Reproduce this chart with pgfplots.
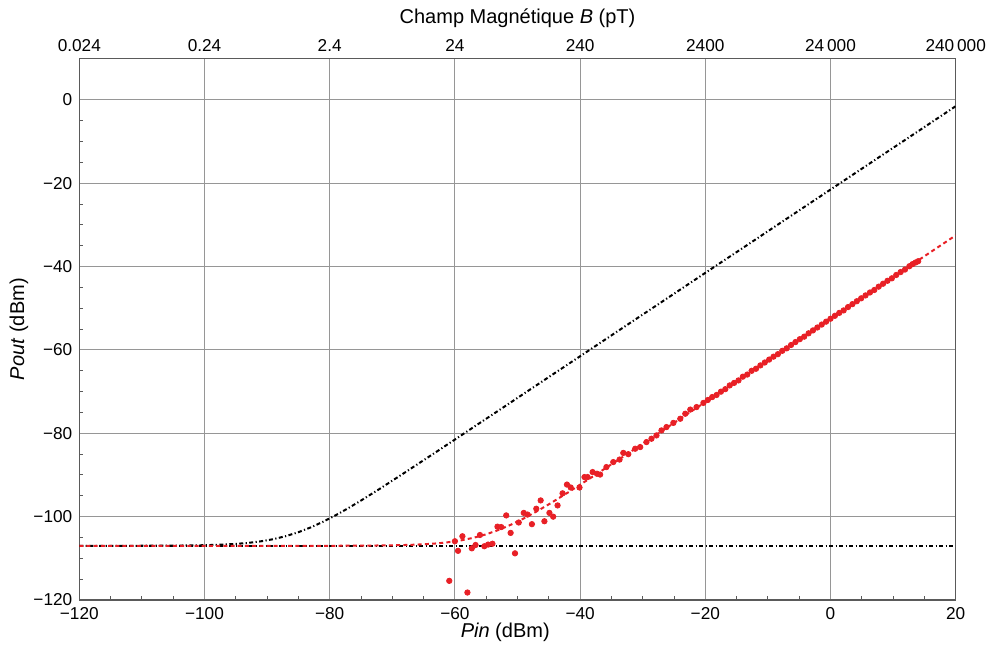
\documentclass[border=0pt]{standalone}
\usepackage{fontspec}
\setmainfont{Liberation Sans}
\usepackage{pgfplots}
\pgfplotsset{compat=1.18}
\definecolor{ptred}{RGB}{232,32,38}
\definecolor{gridgray}{RGB}{150,150,150}
\definecolor{framegray}{RGB}{90,90,90}
\begin{document}
\begin{tikzpicture}
\useasboundingbox (-39.65pt,-23.5pt) rectangle (454.85pt,300pt);
\begin{axis}[
  at={(0,0)}, anchor=south west,
  width=438.2pt, height=270.85pt, scale only axis,
  xmin=-120, xmax=20, ymin=-120, ymax=10,
  xtick={-120,-100,-80,-60,-40,-20,0,20},
  ytick={-120,-100,-80,-60,-40,-20,0},
  xticklabels={−120,−100,−80,−60,−40,−20,0,20},
  yticklabels={−120,−100,−80,−60,−40,−20,0},
  minor x tick num=3, minor y tick num=3,
  tick align=inside, major tick length=0pt, minor tick length=2pt,
  tick pos=left,
  xmajorgrids, ymajorgrids,
  grid style={gridgray, line width=0.5pt},
  axis line style={framegray, line width=0.65pt},
  every tick/.style={framegray, line width=0.5pt},
  tick label style={font=\fontsize{8.6}{10}\selectfont},
  label style={font=\fontsize{8.6}{10}\selectfont},
  xlabel={\textit{Pin} (dBm)},
  ylabel={\textit{Pout} (dBm)},
  every axis x label/.style={at={(axis description cs:0.486,-0.059)}, anchor=center},
  every axis y label/.style={at={(axis description cs:-0.069,0.5)}, anchor=center, rotate=90},
]
% noise floor
\addplot[black, line width=1pt, dash pattern=on 2pt off 1.2pt on 0.6pt off 1.2pt] coordinates {(-120,-107) (20,-107)};
% black theoretical curve
\addplot[black, line width=1pt, dash pattern=on 2pt off 1.2pt on 0.6pt off 1.2pt] coordinates {
(-120,-107.0) (-110,-106.98) (-105,-106.95) (-100,-106.85) (-97,-106.70) (-95,-106.54)
(-93,-106.29) (-91,-105.92) (-89,-105.40) (-87,-104.67) (-85,-103.73) (-83,-102.56)
(-81,-101.18) (-79,-99.62) (-77,-97.93) (-75,-96.13) (-72,-93.31) (-68,-89.42)
(-64,-85.47) (-60,-81.49) (-55,-76.50) (-40,-61.5) (0,-21.5) (20,-1.5)};
% red fit
\addplot[ptred, line width=1pt, dash pattern=on 2pt off 1.6pt] coordinates {
(-120,-107.0) (-80,-106.99) (-75,-106.96) (-70,-106.88) (-67,-106.76) (-65,-106.63)
(-63,-106.43) (-61,-106.12) (-59,-105.68) (-57,-105.06) (-55,-104.23) (-53,-103.18)
(-51,-101.90) (-49,-100.42) (-47,-98.79) (-45,-97.04) (-42,-94.26) (-38,-90.40)
(-34,-86.46) (-30,-82.49) (-25,-77.5) (20,-32.5)};
% measurements
\addplot[only marks, mark=*, mark size=1.35pt, mark options={draw=ptred, fill=ptred}] coordinates {
(-60.9,-115.4) (-58.0,-118.2) (-60.0,-105.9) (-59.5,-108.2) (-58.8,-104.7) (-57.3,-107.6)
(-56.7,-106.8) (-56.0,-104.4) (-55.3,-107.1) (-54.7,-106.7) (-54.0,-106.5) (-53.2,-102.4)
(-52.6,-102.5) (-51.8,-99.7) (-51.1,-103.9) (-50.4,-108.8) (-49.8,-101.4) (-49.0,-99.1)
(-48.4,-99.5) (-47.7,-101.8) (-47.0,-98.1) (-46.3,-96.1) (-45.7,-101.1) (-44.9,-99.1)
(-44.3,-100.0) (-43.6,-97.3) (-42.8,-94.4) (-42.1,-92.3) (-41.5,-93.0) (-40.1,-93.0)
(-39.3,-90.5) (-38.8,-90.5) (-38.0,-89.3) (-37.3,-89.7)
(-36.8,-89.9) (-35.8,-88.1) (-34.7,-86.9) (-33.7,-86.3) (-33.1,-84.7) (-32.3,-85.0)
(-31.2,-83.7) (-30.4,-83.3) (-29.4,-82.1) (-28.6,-81.3) (-27.8,-80.5) (-27.0,-79.3)
(-26.2,-78.5) (-25.1,-77.5) (-24.0,-76.5) (-23.2,-75.3) (-22.4,-74.3) (-21.4,-73.7)
(-20.3,-72.7) (-19.6,-72.0) (-18.9,-71.3) (-18.2,-70.8) (-17.5,-70.0) (-16.8,-69.4)
(-16.1,-68.5) (-15.4,-67.9) (-14.7,-67.3) (-14.0,-66.4) (-13.3,-65.9) (-12.6,-65.0)
(-11.9,-64.5) (-11.2,-63.7) (-10.5,-63.0) (-9.8,-62.3) (-9.1,-61.6) (-8.4,-61.0)
(-7.7,-60.2) (-7.0,-59.6) (-6.3,-58.8) (-5.6,-58.1) (-4.9,-57.4) (-4.2,-56.8)
(-3.5,-56.0) (-2.8,-55.3) (-2.1,-54.6) (-1.4,-53.9) (-0.7,-53.2) (0.0,-52.5)
(0.7,-51.8) (1.4,-51.1) (2.1,-50.5) (2.8,-49.7) (3.5,-49.0) (4.2,-48.3)
(4.9,-47.6) (5.6,-46.9) (6.3,-46.2) (7.0,-45.6) (7.7,-44.8) (8.4,-44.1)
(9.1,-43.4) (9.8,-42.8) (10.5,-42.0) (11.2,-41.3) (11.9,-40.7) (12.6,-39.9)
(13.1,-39.4) (13.6,-39.0) (14.0,-38.7)};
\end{axis}
\begin{axis}[
  at={(0,0)}, anchor=south west,
  width=438.2pt, height=270.85pt, scale only axis,
  xmin=-120, xmax=20, ymin=-120, ymax=10,
  axis x line*=top, axis y line=none,
  xtick={-120,-100,-80,-60,-40,-20,0,20},
  xticklabels={0.024,0.24,2.4,24,240,2400,24\,000,240\,000},
  major tick length=0pt,
  axis line style={framegray, line width=0.65pt},
  tick label style={font=\fontsize{8.6}{10}\selectfont},
  label style={font=\fontsize{8.6}{10}\selectfont},
  xlabel={Champ Magnétique \textit{B} (pT)},
  every axis x label/.style={at={(axis description cs:0.5,1.074)}, anchor=center},
]
\end{axis}
\end{tikzpicture}
\end{document}
